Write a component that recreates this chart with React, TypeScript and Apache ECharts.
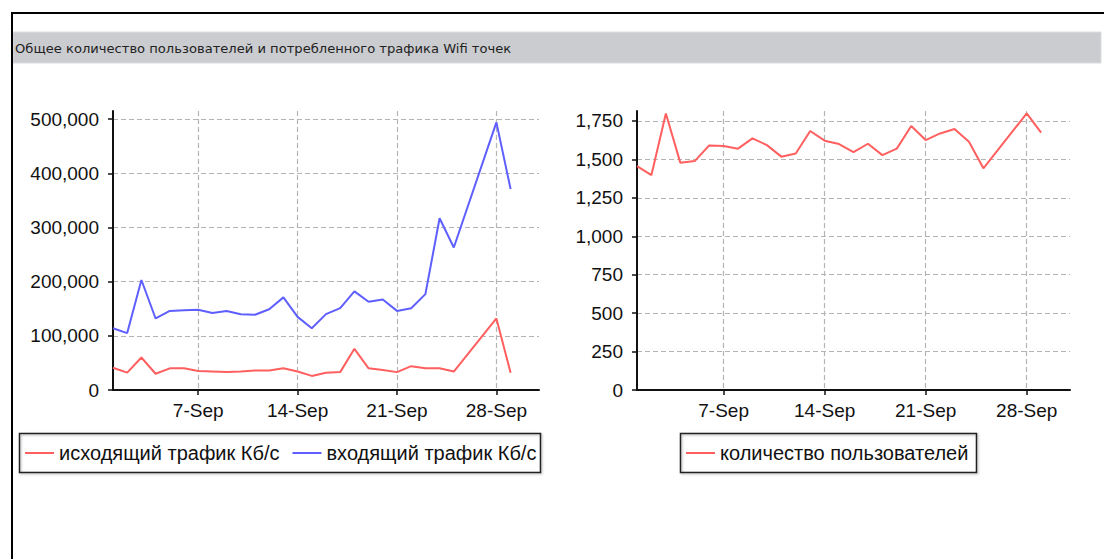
import React, { useEffect, useRef } from "react";
import * as echarts from "echarts";

const categories = [
  "1-Sep", "2-Sep", "3-Sep", "4-Sep", "5-Sep", "6-Sep", "7-Sep", "8-Sep", "9-Sep", "10-Sep",
  "11-Sep", "12-Sep", "13-Sep", "14-Sep", "15-Sep", "16-Sep", "17-Sep", "18-Sep", "19-Sep", "20-Sep",
  "21-Sep", "22-Sep", "23-Sep", "24-Sep", "25-Sep", "26-Sep", "27-Sep", "28-Sep", "29-Sep", "30-Sep",
  "1-Oct",
];
const xTickLabels = ["7-Sep", "14-Sep", "21-Sep", "28-Sep"];

const dataDays = [
  "1-Sep", "2-Sep", "3-Sep", "4-Sep", "5-Sep", "6-Sep", "7-Sep", "8-Sep", "9-Sep", "10-Sep",
  "11-Sep", "12-Sep", "13-Sep", "14-Sep", "15-Sep", "16-Sep", "17-Sep", "18-Sep", "19-Sep", "20-Sep",
  "21-Sep", "22-Sep", "23-Sep", "24-Sep", "25-Sep", "28-Sep", "29-Sep",
];
const outgoing = [
  41000, 32000, 60000, 30000, 40000, 40000, 35000, 34000, 33000, 34000,
  36000, 36000, 40000, 34000, 26000, 32000, 33000, 76000, 40000, 37000,
  33000, 44000, 40000, 40000, 34000, 132000, 32000,
];
const incoming = [
  114000, 105000, 203000, 132000, 146000, 147000, 148000, 142000, 146000, 140000,
  139000, 149000, 171000, 135000, 114000, 140000, 151000, 182000, 163000, 167000,
  146000, 151000, 177000, 317000, 263000, 494000, 371000,
];
const users = [
  1457, 1398, 1799, 1479, 1489, 1591, 1587, 1570, 1637, 1593,
  1518, 1539, 1685, 1622, 1600, 1548, 1602, 1528, 1570, 1717,
  1626, 1669, 1698, 1615, 1442, 1799, 1674,
];

const titleText = "Общее количество пользователей и потребленного трафика Wifi точек";
const nameOut = "исходящий трафик Кб/с";
const nameIn = "входящий трафик Кб/с";
const nameUsers = "количество пользователей";

const RED = "#ff5f5f";
const BLUE = "#5f5fff";
const FONT = "'Liberation Sans', Arial, sans-serif";
const FS = 19;

const showTick = (_i: number, v: string) => xTickLabels.includes(v);

function xAxis(gridIndex: number) {
  return {
    type: "category",
    gridIndex,
    data: categories,
    boundaryGap: false,
    axisLine: { lineStyle: { color: "#111", width: 2 } },
    axisTick: { show: true, interval: showTick, length: 5, lineStyle: { color: "#111", width: 1.5 } },
    axisLabel: { interval: showTick, color: "#111", fontSize: FS, fontFamily: FONT, margin: 11 },
    splitLine: { show: true, interval: showTick, lineStyle: { color: "#b4b4b4", type: [5, 3], width: 1.2 } },
  };
}

function yAxis(gridIndex: number, max: number, interval: number) {
  return {
    type: "value",
    gridIndex,
    min: 0,
    max,
    interval,
    axisLine: { show: true, lineStyle: { color: "#111", width: 2 } },
    axisTick: { show: true, length: 5, lineStyle: { color: "#111", width: 1.5 } },
    axisLabel: {
      color: "#111",
      fontSize: FS,
      fontFamily: FONT,
      margin: 14,
      showMaxLabel: false,
      formatter: (v: number) => v.toLocaleString("en-US"),
    },
    splitLine: { show: true, showMaxLine: false, lineStyle: { color: "#b4b4b4", type: [5, 3], width: 1.2 } },
  };
}

export default function App() {
  const ref = useRef<HTMLDivElement>(null);
  useEffect(() => {
    if (!ref.current) return;
    const chart = echarts.init(ref.current, null, { renderer: "svg" });
    const legendText = { color: "#111", fontSize: 20, fontFamily: FONT };
    chart.setOption({
      animation: false,
      backgroundColor: "#fff",
      grid: [
        { left: 113, top: 111, width: 426, height: 279 },
        { left: 637, top: 111, width: 433, height: 279 },
      ],
      xAxis: [xAxis(0), xAxis(1)],
      yAxis: [yAxis(0, 515000, 100000), yAxis(1, 1815, 250)],
      legend: [
        {
          data: [nameOut, nameIn],
          left: 25,
          top: 443,
          icon: "rect",
          itemWidth: 29,
          itemHeight: 2,
          itemGap: 13,
          padding: 0,
          textStyle: legendText,
          selectedMode: false,
        },
        {
          data: [nameUsers],
          left: 686,
          top: 443,
          icon: "rect",
          itemWidth: 29,
          itemHeight: 2,
          padding: 0,
          textStyle: legendText,
          selectedMode: false,
        },
      ],
      series: [
        {
          name: nameOut,
          type: "line",
          xAxisIndex: 0,
          yAxisIndex: 0,
          data: dataDays.map((d, i) => [d, outgoing[i]]),
          showSymbol: false,
          color: RED,
          lineStyle: { width: 2, color: RED },
        },
        {
          name: nameIn,
          type: "line",
          xAxisIndex: 0,
          yAxisIndex: 0,
          data: dataDays.map((d, i) => [d, incoming[i]]),
          showSymbol: false,
          color: BLUE,
          lineStyle: { width: 2, color: BLUE },
        },
        {
          name: nameUsers,
          type: "line",
          xAxisIndex: 1,
          yAxisIndex: 1,
          data: dataDays.map((d, i) => [d, users[i]]),
          showSymbol: false,
          color: RED,
          lineStyle: { width: 2, color: RED },
        },
      ],
      graphic: [
        { type: "line", shape: { x1: 11, y1: 13, x2: 1104, y2: 13 }, style: { stroke: "#000", lineWidth: 2 }, z: 10 },
        { type: "line", shape: { x1: 12, y1: 12, x2: 12, y2: 559 }, style: { stroke: "#000", lineWidth: 2 }, z: 10 },
        { type: "rect", shape: { x: 13, y: 32, width: 1088, height: 31 }, style: { fill: "#cbccd0", stroke: "#dcdde0", lineWidth: 1 }, z: 1 },
        {
          type: "text",
          x: 15,
          y: 48,
          style: { text: titleText, fill: "#222", font: "13.1px 'DejaVu Sans', Verdana, sans-serif", textVerticalAlign: "middle" },
          z: 10,
        },
        {
          type: "rect",
          shape: { x: 19.5, y: 433.5, width: 521, height: 39 },
          style: { fill: "none", stroke: "#222", lineWidth: 1.5, shadowColor: "rgba(0,0,0,0.3)", shadowBlur: 2, shadowOffsetX: 1, shadowOffsetY: 1 },
          z: 1,
        },
        {
          type: "rect",
          shape: { x: 680.5, y: 433.5, width: 296, height: 39 },
          style: { fill: "none", stroke: "#222", lineWidth: 1.5, shadowColor: "rgba(0,0,0,0.3)", shadowBlur: 2, shadowOffsetX: 1, shadowOffsetY: 1 },
          z: 1,
        },
      ],
    });
    return () => chart.dispose();
  }, []);
  return (
    <div
      ref={ref}
      style={{ position: "absolute", left: 0, top: 0, width: 1104, height: 559, background: "#fff" }}
    />
  );
}
